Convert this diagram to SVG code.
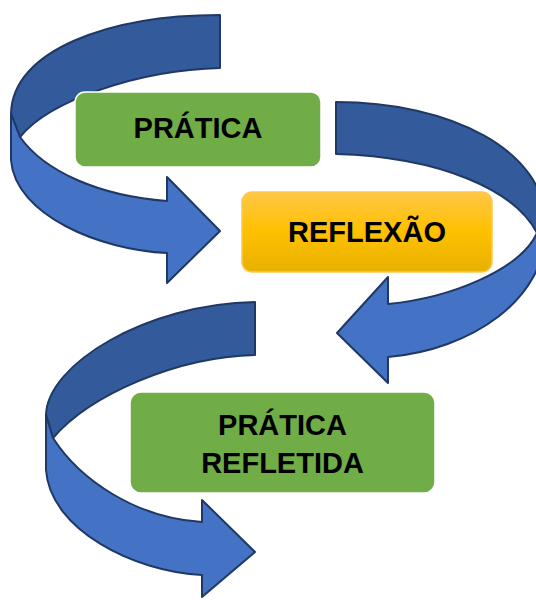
<svg xmlns="http://www.w3.org/2000/svg" width="536" height="600" viewBox="0 0 536 600">
<defs>
<linearGradient id="gy" x1="0" y1="0" x2="0" y2="1">
<stop offset="0" stop-color="#ffc746"/>
<stop offset="0.5" stop-color="#ffc000"/>
<stop offset="1" stop-color="#e6b100"/>
</linearGradient>
<style>
.back{fill:#335a9b;stroke:#1f3864;stroke-width:2;stroke-linejoin:round}
.front{fill:#4472c4;stroke:#1f3864;stroke-width:2;stroke-linejoin:round}
.green{fill:#70ad47;stroke:#ffffff;stroke-width:1.5}
.yellow{fill:url(#gy);stroke:#ffc74a;stroke-width:1.5}
.lbl{font-family:"Liberation Sans",Arial,sans-serif;font-weight:bold;font-size:29px;fill:#000;text-anchor:middle}
</style>
</defs>
<rect width="536" height="600" fill="#ffffff"/>
<g id="connectors">
<g id="arrow1">
<path class="back" d="M220,15 C110,15 12,50 11,114 L20,137 C50,100 140,70 220,68 Z"/>
<path class="front" d="M11,114 L11,160 C15,215 100,250 167,253 L167,283 L220,231 L167,177 L167,201 C100,196 45,172 20,137 Z"/>
</g>
<g id="arrow2">
<path class="back" d="M336,102 C450,102 546,150 546,225 L537,233 C515,190 440,157 336,154 Z"/>
<path class="front" d="M546,225 C548,300 470,350 388,357 L388,383 L337,333 L388,277 L388,304 C450,298 520,270 537,233 Z"/>
</g>
<g id="arrow3">
<path class="back" d="M255,302 C145,304 47,365 46,415 L53,438 C90,395 176,357 255,355 Z"/>
<path class="front" d="M46,415 L46,470 C50,530 135,572 202,575 L202,597 L255,552 L202,500 L202,522 C136,518 80,480 53,438 Z"/>
</g>
</g>
<g id="pratica">
<rect class="green" x="75" y="92" width="246" height="75" rx="10"/>
<text class="lbl" x="198" y="138">PRÁTICA</text>
</g>
<g id="reflexao">
<rect class="yellow" x="242" y="192" width="250" height="80" rx="10"/>
<text class="lbl" x="367" y="242">REFLEXÃO</text>
</g>
<g id="pratica-refletida">
<rect class="green" x="130" y="392" width="305" height="101" rx="11"/>
<text class="lbl" x="282.5" y="435">PRÁTICA</text>
<text class="lbl" x="282.5" y="473">REFLETIDA</text>
</g>
</svg>
